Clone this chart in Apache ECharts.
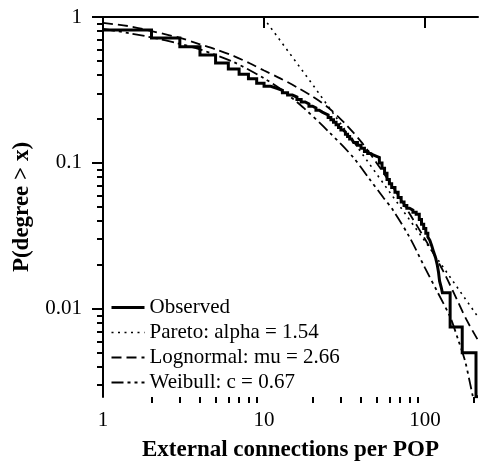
<!DOCTYPE html>
<html><head><meta charset="utf-8">
<script src="https://cdn.jsdelivr.net/npm/echarts@6/dist/echarts.min.js"></script>
<style>html,body{margin:0;padding:0;background:#fff}#c{width:480px;height:464px}</style>
</head><body><div id="c"></div>
<script>
// ---- axis ranges / ticks ----
const xMin = 1, xMax = 213;
const yMin = 0.00249, yMax = 1;
const xMajorTicks = [1, 10, 100];
const xMinorTicks = [2, 3, 4, 5, 6, 7, 8, 9, 20, 30, 40, 50, 60, 70, 80, 90, 200];
const yMajorTicks = [0.01, 0.1, 1];
const yMinorTicks = [0.003, 0.004, 0.005, 0.006, 0.007, 0.008, 0.009,
  0.02, 0.03, 0.04, 0.05, 0.06, 0.07, 0.08, 0.09,
  0.2, 0.3, 0.4, 0.5, 0.6, 0.7, 0.8, 0.9];
const xTitle = 'External connections per POP';
const yTitle = 'P(degree > x)';
const seriesNames = ['Observed', 'Pareto: alpha = 1.54', 'Lognormal: mu = 2.66', 'Weibull: c = 0.67'];

// ---- data ----
const observed = [
  [1, 0.815], [2, 0.718], [3, 0.626], [4, 0.55], [5, 0.484], [6, 0.44], [7, 0.405], [8, 0.377],
  [9, 0.352], [10, 0.335], [11, 0.325], [12, 0.315], [13, 0.303], [14, 0.292], [15, 0.283],
  [16, 0.272], [17, 0.262], [18, 0.254], [19, 0.245], [20, 0.238], [21, 0.23], [22, 0.223],
  [23, 0.218], [24, 0.213], [25, 0.205], [26, 0.198], [27, 0.19], [28, 0.183], [29, 0.175],
  [30, 0.168], [31, 0.163], [32, 0.157], [33, 0.152], [34, 0.146], [35, 0.142], [36, 0.138],
  [38, 0.132], [40, 0.126], [42, 0.12], [44, 0.116], [46, 0.113], [48, 0.111], [50, 0.109],
  [52, 0.1], [54, 0.092], [56, 0.085], [58, 0.077], [60, 0.072], [62, 0.068], [65, 0.063],
  [68, 0.058], [71, 0.054], [74, 0.051], [77, 0.049], [80, 0.0475], [84, 0.046], [88, 0.0445],
  [92, 0.041], [95, 0.038], [98, 0.0355], [101, 0.033], [104, 0.031], [107, 0.0295], [110, 0.027],
  [113, 0.0245], [116, 0.0225], [119, 0.02], [121, 0.018], [123, 0.0155], [126, 0.014],
  [128, 0.0129], [143, 0.0075], [170, 0.005], [207, 0.0025], [213, 0.0025]
];
const pareto = [[9.9, 0.99], [20, 0.345], [50, 0.084], [100, 0.029], [213, 0.0088]];
const lognormal = [
  [1, 0.91], [1.5, 0.86], [2, 0.8], [3, 0.72], [4, 0.65], [5, 0.6], [6.5, 0.54], [8.2, 0.48],
  [10, 0.43], [12.6, 0.38], [16, 0.33], [20, 0.285], [25, 0.24], [32, 0.185], [40, 0.14],
  [50, 0.1], [65, 0.065], [80, 0.045], [100, 0.03], [130, 0.018], [158, 0.0115], [182, 0.0083],
  [213, 0.0061]
];
const weibull = [
  [1, 0.83], [1.5, 0.77], [2, 0.725], [3, 0.655], [4, 0.6], [5, 0.55], [6.5, 0.49], [8.2, 0.43],
  [10, 0.38], [12.6, 0.322], [17.5, 0.24], [25, 0.165], [35.6, 0.11], [45, 0.078], [55, 0.058],
  [63, 0.0477], [80, 0.031], [100, 0.019], [120, 0.0129], [143, 0.0088], [160, 0.0062],
  [177, 0.0044], [190, 0.0031], [198, 0.0025]
];

// ---- chart ----
const FONT = 'Liberation Serif';
const lg = Math.log10;
const fmtPow = v => String(Number(Math.pow(10, v).toPrecision(3)));
const blackLine = { color: '#000', width: 2 };

const chart = echarts.init(document.getElementById('c'), null, { renderer: 'canvas' });
chart.setOption({
  animation: false,
  backgroundColor: '#fff',
  grid: { left: 103, top: 17, right: 2, bottom: 67, containLabel: false, outerBoundsMode: 'none' },
  xAxis: [
    { type: 'log', logBase: 10, min: xMin, max: xMax, show: false, position: 'bottom' },
    {
      type: 'value', min: lg(xMin), max: lg(xMax), position: 'bottom',
      axisLine: { show: true, lineStyle: blackLine },
      axisTick: { show: true, customValues: xMajorTicks.map(lg), length: 11, inside: false, lineStyle: blackLine },
      axisLabel: { show: true, customValues: xMajorTicks.map(lg), formatter: fmtPow, margin: 13,
        fontFamily: FONT, fontSize: 21, color: '#000' },
      splitLine: { show: false },
      name: xTitle, nameLocation: 'middle', nameGap: 42,
      nameTextStyle: { fontFamily: FONT, fontSize: 23, fontWeight: 'bold', color: '#000' }
    },
    {
      type: 'value', min: lg(xMin), max: lg(xMax), position: 'bottom',
      axisLine: { show: false },
      axisTick: { show: true, customValues: xMinorTicks.map(lg), length: 6, inside: false, lineStyle: blackLine },
      axisLabel: { show: false }, splitLine: { show: false }
    }
  ],
  yAxis: [
    { type: 'log', logBase: 10, min: yMin, max: yMax, show: false, position: 'left' },
    {
      type: 'value', min: lg(yMin), max: lg(yMax), position: 'left',
      axisLine: { show: true, lineStyle: blackLine },
      axisTick: { show: true, customValues: yMajorTicks.map(lg), length: 11, inside: false, lineStyle: blackLine },
      axisLabel: { show: true, customValues: yMajorTicks.map(lg), formatter: fmtPow, margin: 21,
        fontFamily: FONT, fontSize: 21, color: '#000' },
      splitLine: { show: false },
      name: yTitle, nameLocation: 'middle', nameGap: 69, nameRotate: 90,
      nameTextStyle: { fontFamily: FONT, fontSize: 23, fontWeight: 'bold', color: '#000' }
    },
    {
      type: 'value', min: lg(yMin), max: lg(yMax), position: 'left',
      axisLine: { show: false },
      axisTick: { show: true, customValues: yMinorTicks.map(lg), length: 6, inside: false, lineStyle: blackLine },
      axisLabel: { show: false }, splitLine: { show: false }
    }
  ],
  legend: {
    orient: 'vertical', left: 110, top: 297, padding: 0,
    itemWidth: 33, itemHeight: 14, itemGap: 4, selectedMode: false,
    textStyle: { fontFamily: FONT, fontSize: 21, color: '#000' },
    itemStyle: { color: 'rgba(0,0,0,0)', borderWidth: 0, opacity: 0 },
    data: [
      { name: seriesNames[0], lineStyle: { width: 3 } },
      { name: seriesNames[1], lineStyle: { width: 1.6 } },
      { name: seriesNames[2], lineStyle: { width: 1.8 } },
      { name: seriesNames[3], lineStyle: { width: 1.8 } }
    ]
  },
  series: [
    { name: seriesNames[0], type: 'line', step: 'end', data: observed, symbol: 'none',
      xAxisIndex: 0, yAxisIndex: 0, z: 5,
      lineStyle: { color: '#000', width: 3, join: 'miter', cap: 'butt' } },
    { name: seriesNames[1], type: 'line', data: pareto, symbol: 'none', xAxisIndex: 0, yAxisIndex: 0,
      lineStyle: { color: '#000', width: 1.6, type: [2, 4.5] } },
    { name: seriesNames[2], type: 'line', data: lognormal, symbol: 'none', smooth: 0.3, xAxisIndex: 0, yAxisIndex: 0,
      lineStyle: { color: '#000', width: 1.8, type: [10, 5] } },
    { name: seriesNames[3], type: 'line', data: weibull, symbol: 'none', smooth: 0.3, xAxisIndex: 0, yAxisIndex: 0,
      lineStyle: { color: '#000', width: 1.8, type: [12, 4, 3, 4, 3, 4] } }
  ]
});
</script>
</body></html>
